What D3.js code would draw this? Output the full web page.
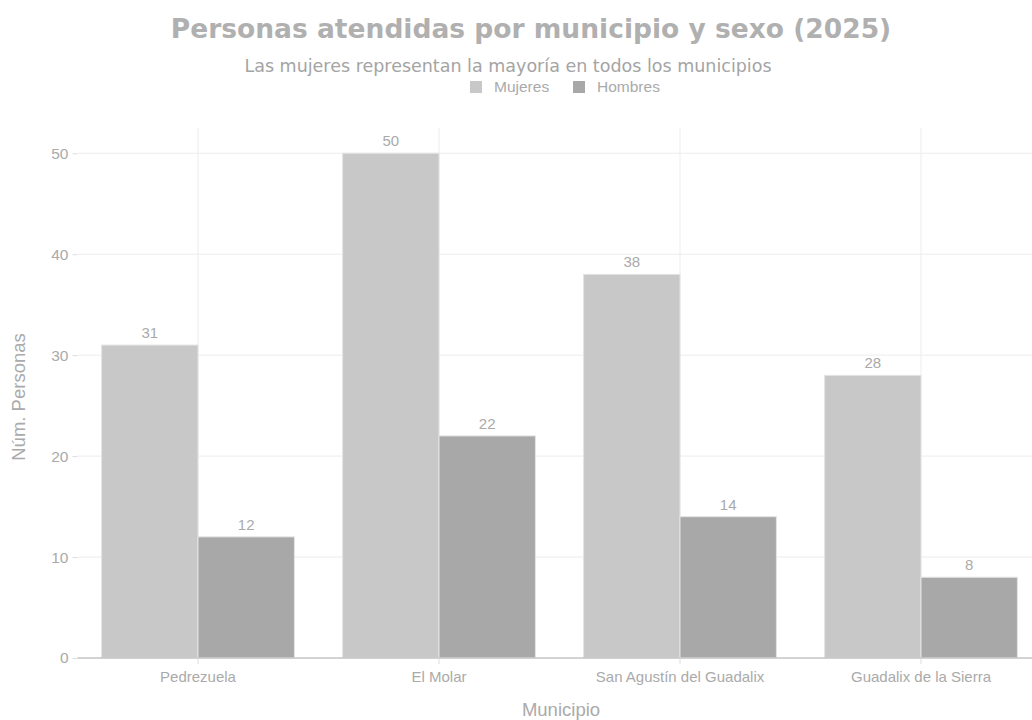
<!DOCTYPE html>
<html>
<head>
<meta charset="utf-8">
<script src="https://cdn.jsdelivr.net/npm/d3@7"></script>
<style>
  html, body { margin: 0; padding: 0; background: #fff; }
  svg { display: block; }
</style>
</head>
<body>
<svg id="chart"></svg>
<script>
// Data
const municipios = ["Pedrezuela", "El Molar", "San Agustín del Guadalix", "Guadalix de la Sierra"];
const series = ["Mujeres", "Hombres"];
const mujeres = [31, 50, 38, 28];
const hombres = [12, 22, 14, 8];
const yTicks = [0, 10, 20, 30, 40, 50];

const width = 1032, height = 720;
const margin = { top: 128, left: 77.5, bottom: 62 };
const plotRight = 1041.5;
const plotBottom = height - margin.bottom;

const colors = { Mujeres: "#c8c8c8", Hombres: "#a8a8a8" };
const textColor = "#aaa";
const sans = "'Liberation Sans', Arial, sans-serif";

const svg = d3.select("#chart")
    .attr("width", width)
    .attr("height", height);

// Scales
const x = d3.scaleBand()
    .domain(municipios)
    .range([margin.left, plotRight])
    .paddingInner(0.2)
    .paddingOuter(0.1);

const xInner = d3.scaleBand()
    .domain(series)
    .range([0, x.bandwidth()]);

const y = d3.scaleLinear()
    .domain([0, 52.5])
    .range([plotBottom, margin.top]);

// Horizontal grid
svg.append("g")
    .selectAll("line")
    .data(yTicks.filter(d => d > 0))
    .join("line")
    .attr("x1", margin.left)
    .attr("x2", width)
    .attr("y1", d => y(d))
    .attr("y2", d => y(d))
    .attr("stroke", "#ececec")
    .attr("stroke-width", 1);

// Vertical grid at category centers
svg.append("g")
    .selectAll("line")
    .data(municipios)
    .join("line")
    .attr("x1", d => x(d) + x.bandwidth() / 2)
    .attr("x2", d => x(d) + x.bandwidth() / 2)
    .attr("y1", margin.top)
    .attr("y2", plotBottom)
    .attr("stroke", "#ececec")
    .attr("stroke-width", 1);

// Y axis
const yAxis = svg.append("g")
    .attr("transform", `translate(${margin.left},0)`)
    .call(d3.axisLeft(y).tickValues(yTicks).tickSize(5).tickPadding(4));
yAxis.select(".domain").remove();
yAxis.selectAll(".tick line").attr("stroke", "#ddd");
yAxis.selectAll(".tick text")
    .attr("fill", textColor)
    .attr("font-family", sans)
    .attr("font-size", "15.5px");

// Bars
const rows = municipios.map((m, i) => ({ municipio: m, Mujeres: mujeres[i], Hombres: hombres[i] }));

const groups = svg.append("g")
    .selectAll("g")
    .data(rows)
    .join("g")
    .attr("transform", d => `translate(${x(d.municipio)},0)`);

groups.selectAll("rect")
    .data(d => series.map(s => ({ key: s, value: d[s] })))
    .join("rect")
    .attr("x", d => xInner(d.key))
    .attr("y", d => y(d.value))
    .attr("width", xInner.bandwidth())
    .attr("height", d => y(0) - y(d.value))
    .attr("fill", d => colors[d.key])
    .attr("stroke", "#e4e4e4")
    .attr("stroke-width", 1);

// Value labels
groups.selectAll("text")
    .data(d => series.map(s => ({ key: s, value: d[s] })))
    .join("text")
    .attr("x", d => xInner(d.key) + xInner.bandwidth() / 2)
    .attr("y", d => y(d.value) - 7)
    .attr("text-anchor", "middle")
    .attr("fill", textColor)
    .attr("font-family", sans)
    .attr("font-size", "15px")
    .text(d => d.value);

// X axis
const xAxis = svg.append("g")
    .attr("transform", `translate(0,${plotBottom})`)
    .call(d3.axisBottom(x).tickSize(6).tickPadding(7));
xAxis.select(".domain")
    .attr("d", `M${margin.left},0H${width}`)
    .attr("stroke", "#c4c4c4")
    .attr("stroke-width", 1.5);
xAxis.selectAll(".tick line").attr("stroke", "#ddd");
xAxis.selectAll(".tick text")
    .attr("fill", textColor)
    .attr("font-family", sans)
    .attr("font-size", "15px");

// Axis titles
svg.append("text")
    .attr("x", 561)
    .attr("y", 716)
    .attr("text-anchor", "middle")
    .attr("fill", textColor)
    .attr("font-family", sans)
    .attr("font-size", "18.5px")
    .text("Municipio");

svg.append("text")
    .attr("transform", `translate(25,${(margin.top + plotBottom) / 2 + 4}) rotate(-90)`)
    .attr("text-anchor", "middle")
    .attr("fill", textColor)
    .attr("font-family", sans)
    .attr("font-size", "18.5px")
    .text("Núm. Personas");

// Title and subtitle
svg.append("text")
    .attr("x", 531)
    .attr("y", 38)
    .attr("text-anchor", "middle")
    .attr("fill", "#b0b0b0")
    .attr("font-family", "'DejaVu Sans', sans-serif")
    .attr("font-weight", "bold")
    .attr("font-size", "26.5px")
    .text("Personas atendidas por municipio y sexo (2025)");

svg.append("text")
    .attr("x", 508)
    .attr("y", 72)
    .attr("text-anchor", "middle")
    .attr("fill", "#a4a4a4")
    .attr("font-family", "'DejaVu Sans', sans-serif")
    .attr("font-size", "17.5px")
    .text("Las mujeres representan la mayoría en todos los municipios");

// Legend
const legend = svg.append("g")
    .attr("transform", "translate(470,81)");
const legendOffsets = [0, 103];
const item = legend.selectAll("g")
    .data(series)
    .join("g")
    .attr("transform", (d, i) => `translate(${legendOffsets[i]},0)`);
item.append("rect")
    .attr("width", 12)
    .attr("height", 12)
    .attr("fill", d => colors[d]);
item.append("text")
    .attr("x", 24)
    .attr("y", 11)
    .attr("fill", textColor)
    .attr("font-family", sans)
    .attr("font-size", "15.5px")
    .text(d => d);
</script>
</body>
</html>
